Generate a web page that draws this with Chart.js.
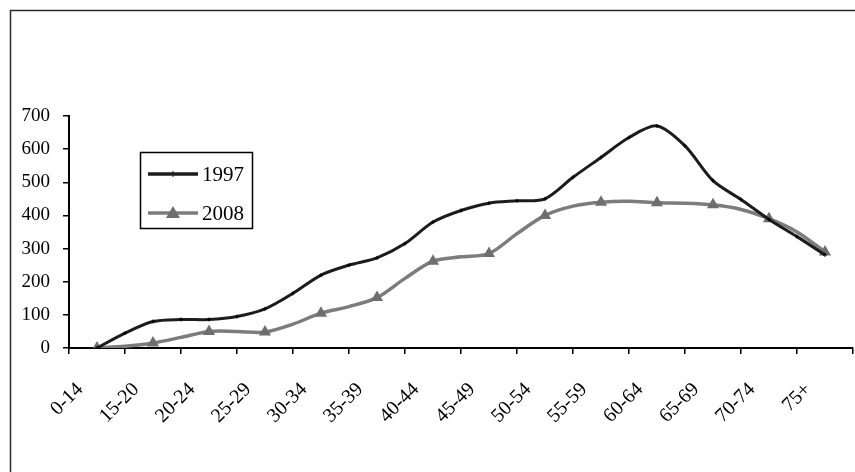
<!DOCTYPE html>
<html><head><meta charset="utf-8">
<script src="https://cdn.jsdelivr.net/npm/chart.js@4/dist/chart.umd.min.js"></script>
<style>html,body{margin:0;padding:0;background:#fff}#wrap{width:855px;height:472px;position:relative}</style>
</head><body><div id="wrap"><canvas id="c" width="855" height="472"></canvas></div>
<script>
const categories = ['0-14','15-20','20-24','25-29','30-34','35-39','40-44','45-49','50-54','55-59','60-64','65-69','70-74','75+'];
const seriesNames = ['1997','2008'];
// positions along the category axis (category index, half steps)
const xPositions = [0,0.5,1,1.5,2,2.5,3,3.5,4,4.5,5,5.5,6,6.5,7,7.5,8,8.5,9,9.5,10,10.5,11,11.5,12,12.5,13];
const values1997 = [0,45,80,86,86,95,118,165,220,250,272,315,380,415,437,444,450,515,575,635,670,610,505,448,388,336,281];
const values2008 = [0,5,15,32,50,50,48,72,105,125,152,210,262,275,285,345,400,428,440,443,438,437,432,418,390,350,290];
const yTicks = [0,100,200,300,400,500,600,700];

const FONT = '"Liberation Serif", "Times New Roman", serif';
const C1997 = '#1c1c1c', C2008 = '#7c7c7c';

const pts = vals => vals.map((v,i)=>({x:xPositions[i], y:v}));

const deco = {
  id:'deco',
  beforeDraw(chart){
    const c = chart.ctx; c.save();
    c.fillStyle='#fff'; c.fillRect(0,0,chart.width,chart.height);
    c.strokeStyle='#2a2a2a'; c.lineWidth=1.5;
    c.beginPath(); c.moveTo(10.5, chart.height+5); c.lineTo(10.5,10.5); c.lineTo(chart.width+5,10.5); c.stroke();
    c.restore();
  },
  afterDraw(chart){
    const c = chart.ctx; c.save();
    c.fillStyle='#fff'; c.fillRect(140,152,113,77);
    c.strokeStyle='#000'; c.lineWidth=1.5; c.strokeRect(140.5,152.5,112,76);
    const rows = [{y:174,col:C1997,name:seriesNames[0],tri:false},{y:213,col:C2008,name:seriesNames[1],tri:true}];
    rows.forEach(r=>{
      c.strokeStyle=r.col; c.lineWidth=3.5; c.beginPath(); c.moveTo(148,r.y); c.lineTo(198,r.y); c.stroke();
      if(r.tri){ c.fillStyle='#6e6e6e'; c.beginPath(); c.moveTo(173,r.y-7); c.lineTo(180,r.y+5); c.lineTo(166,r.y+5); c.closePath(); c.fill(); }
      else { c.lineWidth=1; c.beginPath(); c.moveTo(173,r.y-3); c.lineTo(173,r.y+3); c.stroke(); }
      c.fillStyle='#000'; c.font='21px '+FONT; c.textBaseline='middle'; c.textAlign='left';
      c.fillText(r.name,202,r.y+1);
    });
    c.restore();
  }
};

new Chart(document.getElementById('c'), {
  type:'line',
  data:{
    labels: categories,
    datasets:[
      {label:seriesNames[0], data:pts(values1997), xAxisID:'xd', borderColor:C1997, backgroundColor:C1997, borderWidth:3, tension:0.3,
       pointStyle:'cross', pointRadius:2, pointBorderWidth:1, pointBorderColor:'#000'},
      {label:seriesNames[1], data:pts(values2008), xAxisID:'xd', borderColor:C2008, backgroundColor:'#6e6e6e', borderWidth:3.5, tension:0.3,
       pointStyle:'triangle', pointRadius:ctx=>ctx.dataIndex%2===0?7:0, pointBorderWidth:0, pointBorderColor:'#6e6e6e'}
    ]
  },
  options:{
    responsive:false, animation:false, devicePixelRatio:1,
    layout:{autoPadding:false, padding:{left:0,top:116,right:2,bottom:0}},
    plugins:{legend:{display:false}, tooltip:{enabled:false}},
    scales:{
      xd:{type:'linear', display:false, min:-0.5, max:13.5},
      x:{type:'category', position:'bottom', offset:true,
         grid:{display:true, offset:true, drawOnChartArea:false, drawTicks:true, tickLength:6, color:'#000', lineWidth:1.5},
         border:{display:true, color:'#000', width:2},
         ticks:{color:'#000', font:{family:FONT, size:20}, maxRotation:45, minRotation:45, padding:24, labelOffset:-17, autoSkip:false},
         afterFit(s){ s.height = 472-348; s.paddingLeft = 0; s.paddingRight = 0; }
      },
      y:{min:0, max:700,
         afterBuildTicks(s){ s.ticks = yTicks.map(v=>({value:v})); },
         grid:{display:true, drawOnChartArea:false, drawTicks:true, tickLength:6, color:'#000', lineWidth:1.5},
         border:{display:true, color:'#000', width:2},
         ticks:{color:'#000', font:{family:FONT, size:19}, padding:13},
         afterFit(s){ s.width = 69; s.paddingTop = 0; s.paddingBottom = 0; }
      }
    }
  },
  plugins:[deco]
});
</script></body></html>
